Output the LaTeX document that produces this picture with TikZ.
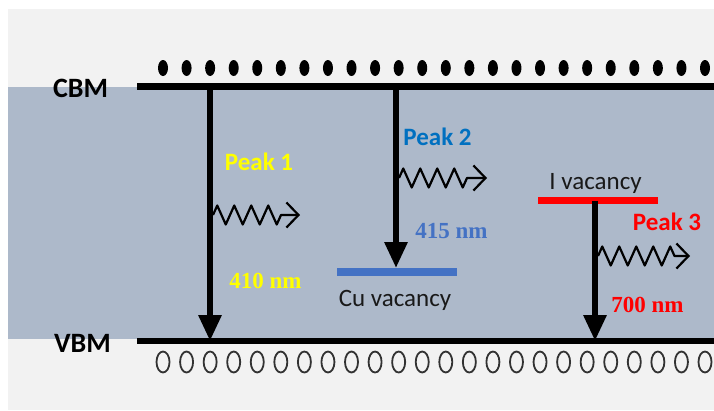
\documentclass[tikz,border=0pt]{standalone}
\usepackage{fontspec}
\setmainfont{Carlito}
\newfontfamily\numfont{Liberation Serif}
\usetikzlibrary{arrows.meta,decorations.pathmorphing}
\definecolor{bandgrey}{RGB}{173,185,202}
\definecolor{bggrey}{RGB}{242,242,242}
\definecolor{pkyellow}{RGB}{255,255,0}
\definecolor{pkblue}{RGB}{0,112,192}
\definecolor{lvblue}{RGB}{68,114,196}
\definecolor{pkred}{RGB}{255,0,0}
\definecolor{holegrey}{RGB}{50,50,50}
\tikzset{
  band/.style={line width=6.5pt, black},
  trans/.style={-{Triangle[length=26pt,width=22pt]}, line width=6pt, black},
  phot/.style={-{Straight Barb[length=12pt,width=25pt]}, line width=2.2pt, line join=round,
               decorate, decoration={zigzag, amplitude=9.5pt, segment length=17pt, post length=14pt}},
  lvl/.style={line width=7.5pt},
  edge/.style={font=\fontsize{28}{30}\selectfont\bfseries, anchor=base},
  peak/.style={font=\fontsize{25}{27}\selectfont\bfseries, anchor=base},
  wl/.style={font=\fontsize{23}{25}\selectfont\numfont\bfseries, anchor=base},
  vac/.style={font=\fontsize{25}{27}\selectfont, text=black!90, anchor=base},
}
\begin{document}
\begin{tikzpicture}[x=1pt,y=-1pt]
        % frame
        \fill[white](0,0) rectangle (714,410);
        \fill[bggrey](8,9) rectangle (714,410);
        \fill[bandgrey](8,87) rectangle (714,339);
        \useasboundingbox (0,0) rectangle (714,410);
        % electrons and holes
        \foreach \i in {0,...,23}{
          \fill (163+23.565*\i,68) ellipse (5pt and 8pt);
          \draw[holegrey,line width=1.8pt] (163+23.565*\i,362) ellipse (6.5pt and 10.5pt);
        }
        % band edges
        \coordinate (cbmL) at (137,86.5); \coordinate (cbmR) at (714,86.5);
        \coordinate (vbmL) at (137,341); \coordinate (vbmR) at (714,341);
        \draw[band](cbmL)--(cbmR);
        \draw[band](vbmL)--(vbmR);
        \node[edge](cbm) at (80.5,97.5){CBM};
        \node[edge](vbm) at (82.5,352){VBM};
        % defect levels
        \coordinate (cuL) at (337,272); \coordinate (cuR) at (457,272);
        \coordinate (iL) at (538,200.5); \coordinate (iR) at (658,200.5);
        \draw[lvl,lvblue](cuL)--(cuR);
        \draw[lvl,pkred](iL)--(iR);
        \node[vac](cuvac) at (395,306){Cu vacancy};
        \node[vac](ivac) at (595.5,189){I vacancy};
        % transitions
        \coordinate (t1a) at (210,86.5); \coordinate (t1b) at (210,341);
        \coordinate (t2a) at (396,86.5); \coordinate (t2b) at (396,268);
        \coordinate (t3a) at (595,200.5); \coordinate (t3b) at (595,341);
        \draw[trans](t1a)--(t1b);
        \draw[trans](t2a)--(t2b);
        \draw[trans](t3a)--(t3b);
        % emitted light
        \coordinate (w1a) at (213,215); \coordinate (w1b) at (300,215);
        \coordinate (w2a) at (399,178); \coordinate (w2b) at (487,178);
        \coordinate (w3a) at (598,256); \coordinate (w3b) at (690,256);
        \draw[phot](w1a)--(w1b);
        \draw[phot](w2a)--(w2b);
        \draw[phot](w3a)--(w3b);
        % peak labels
        \node[peak,text=pkyellow](pk1) at (259,170){Peak 1};
        \node[peak,text=pkblue](pk2) at (437.5,145){Peak 2};
        \node[peak,text=pkred](pk3) at (667,230){Peak 3};
        \node[wl,text=pkyellow](wl1) at (265.5,288){410 nm};
        \node[wl,text=lvblue](wl2) at (451.5,238){415 nm};
        \node[wl,text=pkred](wl3) at (647.5,312){700 nm};
    \end{tikzpicture}
\end{document}
